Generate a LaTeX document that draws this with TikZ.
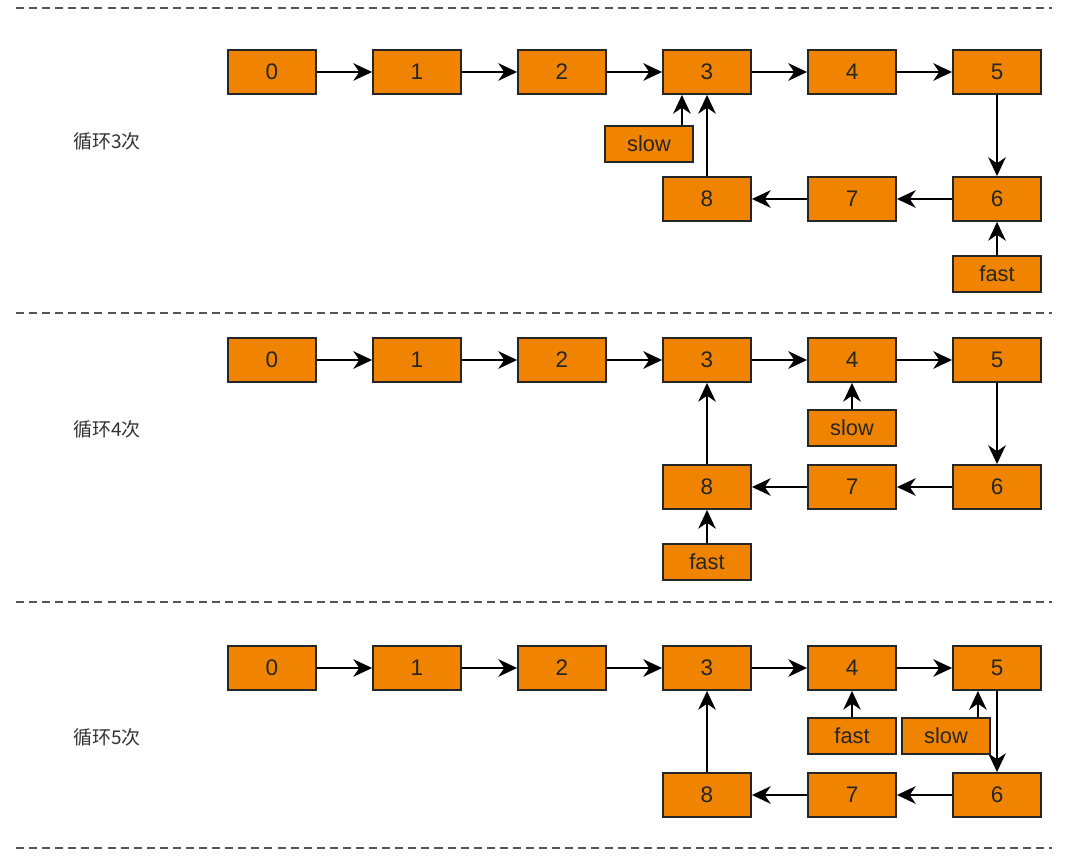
\documentclass[tikz,border=0pt]{standalone}
\usepackage{fontspec}
\setmainfont{Liberation Sans}
\newfontfamily\cjk{Noto Sans CJK SC}
\usepackage{tikz}
\usetikzlibrary{arrows.meta}
\definecolor{boxorange}{HTML}{F08300}
\definecolor{sepgray}{HTML}{555555}

\begin{document}
\begin{tikzpicture}[
    x=0.025cm, y=-0.025cm,
    box/.style={draw=black!85, fill=boxorange, line width=1.3pt, minimum width=2.2cm, minimum height=1.1cm, inner sep=0pt, text=black!85, font=\fontsize{16}{19}\selectfont},
    ptr/.style={box, minimum height=0.9cm, font=\fontsize{15.5}{18}\selectfont},
    link/.style={draw=black, line width=1.3pt, -{Stealth[length=0.47cm, width=0.44cm, inset=0.15cm]}},
    sep/.style={draw=sepgray, line width=1.4pt, dash pattern=on 5.7pt off 3.6pt},
    lbl/.style={text=black!80, font=\cjk\fontsize{13.5}{16}\selectfont}
]
\useasboundingbox (0,0) rectangle (1067,859);
% dashed separators
\foreach \y in {8,313,602,848}
    \draw[sep] (16,\y) -- (1052,\y);
% one list per round
\foreach \s/\dy in {a/0, b/288, c/596} {
    \foreach \i in {0,...,5}
        \node[box] (\s\i) at (272+145*\i, 72+\dy) {\i};
    \node[box] (\s6) at (997, 199+\dy) {6};
    \node[box] (\s7) at (852, 199+\dy) {7};
    \node[box] (\s8) at (707, 199+\dy) {8};
    \foreach \i/\j in {0/1,1/2,2/3,3/4,4/5,5/6,6/7,7/8,8/3}
        \draw[link] (\s\i) -- (\s\j);
}
\node[lbl] (la) at (107,141) {循环3次};
\node[lbl] (lb) at (107,429) {循环4次};
\node[lbl] (lc) at (107,737) {循环5次};
% round 3
\node[ptr] (aslow) at (649,144) {slow};
\node[ptr] (afast) at (997,274) {fast};
\draw[link] ([xshift=-0.3cm]aslow.north east) -- ([xshift=-0.3cm]aslow.north east |- a3.south);
\draw[link] (afast) -- (a6);
% round 4
\node[ptr] (bslow) at (852,428) {slow};
\node[ptr] (bfast) at (707,562) {fast};
\draw[link] (bslow) -- (b4);
\draw[link] (bfast) -- (b8);
% round 5
\node[ptr] (cfast) at (852,736) {fast};
\node[ptr] (cslow) at (946,736) {slow};
\draw[link] (cfast) -- (c4);
\draw[link] ([xshift=-0.325cm]cslow.north east) -- ([xshift=-0.325cm]cslow.north east |- c5.south);
\end{tikzpicture}
\end{document}
